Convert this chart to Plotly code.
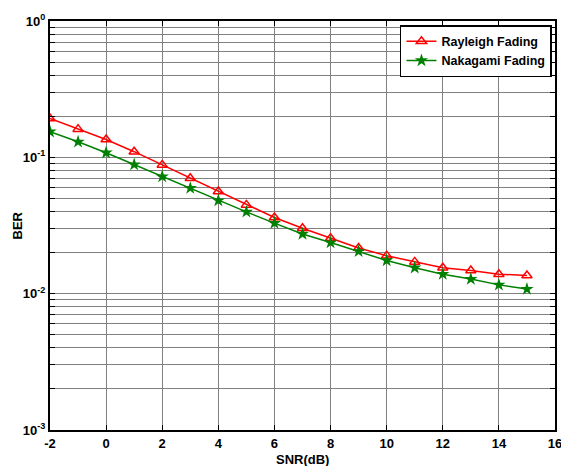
import plotly.graph_objects as go

snr = [-2, -1, 0, 1, 2, 3, 4, 5, 6, 7, 8, 9, 10, 11, 12, 13, 14, 15]
ber_rayleigh = [0.193, 0.161, 0.135, 0.110, 0.088, 0.0703, 0.0561, 0.0448, 0.0362, 0.0302,
                0.0255, 0.0216, 0.0190, 0.0171, 0.0155, 0.0148, 0.0139, 0.0136]
ber_nakagami = [0.154, 0.130, 0.108, 0.0885, 0.0722, 0.0594, 0.0482, 0.0398, 0.0329, 0.0274,
                0.0237, 0.0204, 0.0175, 0.0155, 0.0139, 0.0128, 0.0116, 0.0108]

x_ticks = [-2, 0, 2, 4, 6, 8, 10, 12, 14, 16]
decades = [-3, -2, -1, 0]

y_vals, y_text = [], []
for d in decades:
    for m in range(1, 10):
        if d == 0 and m > 1:
            break
        y_vals.append(m * 10.0 ** d)
        y_text.append(f"10<sup>{d}</sup>" if m == 1 else "")

font = dict(family="Liberation Sans, Arial, sans-serif", size=13, color="black", weight="bold")
lfont = dict(family="Liberation Sans, Arial, sans-serif", size=12.5, color="black", weight="bold")

fig = go.Figure()
fig.add_trace(go.Scatter(
    x=snr, y=ber_rayleigh, mode="lines+markers", name="Rayleigh Fading",
    line=dict(color="#ff0000", width=1.5),
    marker=dict(symbol="triangle-up-open", size=9, color="#ff0000", line=dict(width=1.5)),
))
fig.add_trace(go.Scatter(
    x=snr, y=ber_nakagami, mode="lines+markers", name="Nakagami Fading",
    line=dict(color="#008000", width=1.5),
    marker=dict(symbol="star", size=10, color="#008000", line=dict(width=0)),
))

fig.update_layout(
    width=561, height=466,
    margin=dict(l=50, r=6, t=21, b=36),
    paper_bgcolor="white", plot_bgcolor="white",
    font=font,
    showlegend=True,
    legend=dict(x=0.994, y=0.99, xanchor="right", yanchor="top",
                bgcolor="white", bordercolor="black", borderwidth=1.5,
                font=lfont, tracegroupgap=0, itemwidth=30),
    xaxis=dict(
        range=[-2, 16], tickvals=x_ticks, ticktext=[str(v) for v in x_ticks],
        showgrid=True, gridcolor="#808080", gridwidth=1,
        showline=True, linecolor="black", linewidth=2, mirror="ticks",
        ticks="inside", ticklen=5, tickcolor="black",
        zeroline=False, tickfont=font, automargin=False,
        ticklabeloverflow="allow",
    ),
    yaxis=dict(
        type="log", range=[-3, 0], tickvals=y_vals, ticktext=y_text,
        showgrid=True, gridcolor="#808080", gridwidth=1,
        showline=True, linecolor="black", linewidth=2, mirror="ticks",
        ticks="inside", ticklen=5, tickcolor="black",
        zeroline=False, tickfont=font, automargin=False,
        ticklabeloverflow="allow",
    ),
    annotations=[
        dict(text="SNR(dB)", xref="paper", yref="paper", x=0.5, y=-0.071,
             xanchor="center", yanchor="middle", showarrow=False, font=font),
        dict(text="BER", xref="paper", yref="paper", x=-0.0634, y=0.5, textangle=-90,
             xanchor="center", yanchor="middle", showarrow=False, font=font),
    ],
)

fig.write_html("out.html", config={"displayModeBar": False},
               post_script="document.body.style.margin='0';document.body.style.padding='0';")
